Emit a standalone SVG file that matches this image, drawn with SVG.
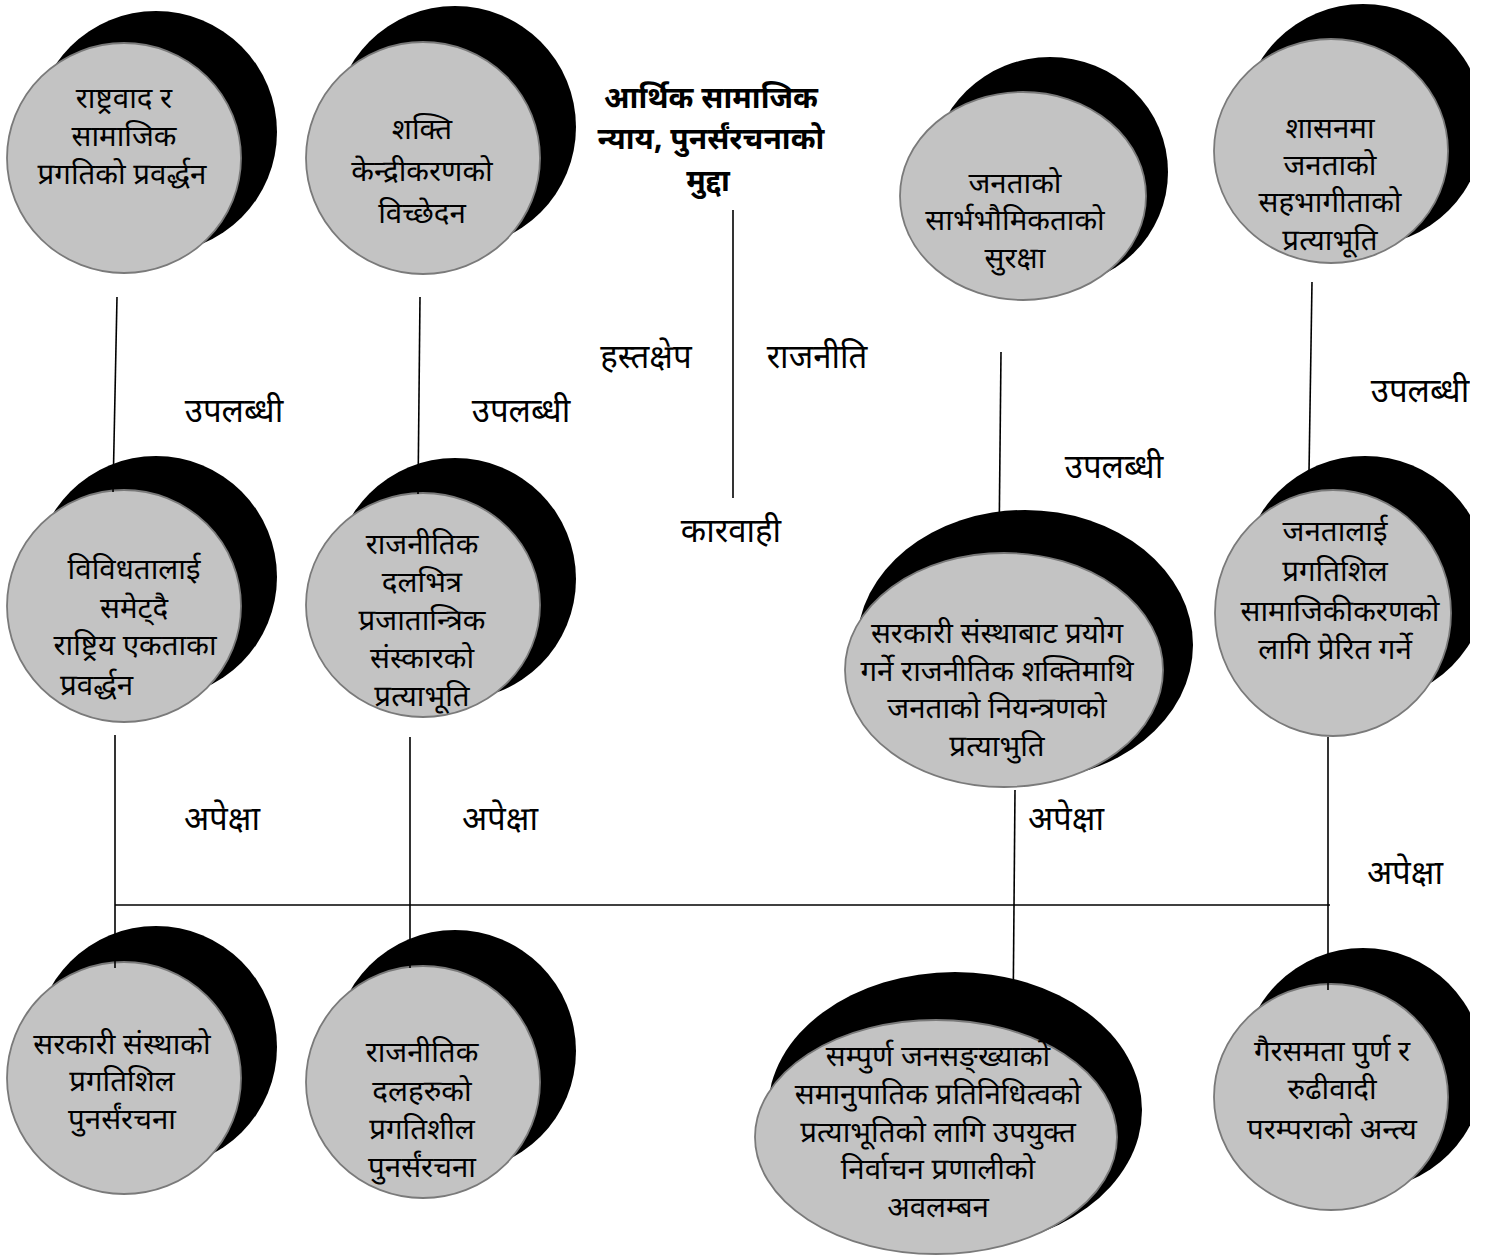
<svg xmlns="http://www.w3.org/2000/svg" width="1487" height="1256" viewBox="0 0 1487 1256">
<style>
.bk{fill:#000}
.gr{fill:#c3c3c3;stroke:#7a7a7a;stroke-width:1.8}
text{font-family:'Noto Sans Devanagari','Noto Sans','Lohit Devanagari','FreeSans',sans-serif;font-size:29.5px;fill:#000;text-anchor:middle}
.ttl{font-weight:bold;font-size:30px}
.lb{font-size:33px}
.ln{stroke:#000;stroke-width:1.6;fill:none}
</style>
<defs>
<clipPath id="pg"><rect x="0" y="0" width="1470" height="1256"/></clipPath>
</defs>
<rect width="1487" height="1256" fill="#fff"/>
<g clip-path="url(#pg)">
<g id="n1">
<circle class="bk" cx="156" cy="132" r="121"/>
<ellipse class="gr" cx="124" cy="158" rx="117" ry="115"/>
<text x="124" y="108">राष्ट्रवाद र</text>
<text x="124" y="146">सामाजिक</text>
<text x="122" y="184">प्रगतिको प्रवर्द्धन</text>
</g>
<g id="n2">
<circle class="bk" cx="455" cy="127" r="121"/>
<ellipse class="gr" cx="423" cy="158" rx="117" ry="116"/>
<text x="422" y="139">शक्ति</text>
<text x="422" y="181">केन्द्रीकरणको</text>
<text x="422" y="223">विच्छेदन</text>
</g>
<g id="n3">
<ellipse class="bk" cx="1050" cy="172" rx="118" ry="115"/>
<ellipse class="gr" cx="1023" cy="196" rx="123" ry="104"/>
<text x="1015" y="193">जनताको</text>
<text x="1015" y="230">सार्भभौमिकताको</text>
<text x="1015" y="268">सुरक्षा</text>
</g>
<g id="n4">
<circle class="bk" cx="1363" cy="125" r="121"/>
<ellipse class="gr" cx="1331" cy="151" rx="117" ry="112"/>
<text x="1330" y="138">शासनमा</text>
<text x="1330" y="175">जनताको</text>
<text x="1330" y="212">सहभागीताको</text>
<text x="1330" y="250">प्रत्याभूति</text>
</g>
<g id="n5">
<circle class="bk" cx="156" cy="577" r="121"/>
<ellipse class="gr" cx="124" cy="606" rx="117" ry="116"/>
<text x="134" y="579">विविधतालाई</text>
<text x="134" y="618">समेट्दै</text>
<text x="135" y="655">राष्ट्रिय एकताका</text>
<text x="60" y="695" style="text-anchor:start">प्रवर्द्धन</text>
</g>
<g id="n6">
<circle class="bk" cx="455" cy="579" r="121"/>
<ellipse class="gr" cx="423" cy="605" rx="117" ry="112"/>
<text x="422" y="554">राजनीतिक</text>
<text x="422" y="592">दलभित्र</text>
<text x="422" y="630">प्रजातान्त्रिक</text>
<text x="422" y="668">संस्कारको</text>
<text x="422" y="706">प्रत्याभूति</text>
</g>
<g id="n7">
<ellipse class="bk" cx="1025" cy="645" rx="168" ry="135"/>
<ellipse class="gr" cx="1004" cy="670" rx="159" ry="117"/>
<text x="997" y="643">सरकारी संस्थाबाट प्रयोग</text>
<text x="997" y="681">गर्ने राजनीतिक शक्तिमाथि</text>
<text x="997" y="718">जनताको नियन्त्रणको</text>
<text x="997" y="756">प्रत्याभुति</text>
</g>
<g id="n8">
<circle class="bk" cx="1365" cy="579" r="123"/>
<ellipse class="gr" cx="1333" cy="613" rx="118" ry="123"/>
<text x="1335" y="541">जनतालाई</text>
<text x="1335" y="581">प्रगतिशिल</text>
<text x="1340" y="621">सामाजिकीकरणको</text>
<text x="1335" y="659">लागि प्रेरित गर्ने</text>
</g>
<g id="n9">
<circle class="bk" cx="156" cy="1047" r="121"/>
<ellipse class="gr" cx="124" cy="1078" rx="117" ry="116"/>
<text x="122" y="1054">सरकारी संस्थाको</text>
<text x="122" y="1091">प्रगतिशिल</text>
<text x="122" y="1129">पुनर्संरचना</text>
</g>
<g id="n10">
<circle class="bk" cx="455" cy="1051" r="121"/>
<ellipse class="gr" cx="423" cy="1082" rx="117" ry="116"/>
<text x="422" y="1062">राजनीतिक</text>
<text x="422" y="1101">दलहरुको</text>
<text x="422" y="1139">प्रगतिशील</text>
<text x="422" y="1177">पुनर्संरचना</text>
</g>
<g id="n11">
<ellipse class="bk" cx="955" cy="1110" rx="187" ry="138"/>
<ellipse class="gr" cx="936" cy="1137" rx="181" ry="117"/>
<text x="938" y="1066">सम्पुर्ण जनसङ्ख्याको</text>
<text x="938" y="1104">समानुपातिक प्रतिनिधित्वको</text>
<text x="938" y="1142">प्रत्याभूतिको लागि उपयुक्त</text>
<text x="938" y="1179">निर्वाचन प्रणालीको</text>
<text x="938" y="1217">अवलम्बन</text>
</g>
<g id="n12">
<circle class="bk" cx="1363" cy="1069" r="121"/>
<ellipse class="gr" cx="1331" cy="1097" rx="117" ry="113"/>
<text x="1332" y="1061">गैरसमता पुर्ण र</text>
<text x="1332" y="1099">रुढीवादी</text>
<text x="1332" y="1139">परम्पराको अन्त्य</text>
</g>
<g id="title">
<text class="ttl" x="711" y="108">आर्थिक सामाजिक</text>
<text class="ttl" x="711" y="149">न्याय, पुनर्संरचनाको</text>
<text class="ttl" x="708" y="191">मुद्दा</text>
</g>
<g id="connectors">
<line class="ln" x1="117" y1="297" x2="113" y2="492"/>
<line class="ln" x1="420" y1="297" x2="418" y2="494"/>
<line class="ln" x1="1001" y1="352" x2="999" y2="548"/>
<line class="ln" x1="1312" y1="282" x2="1309" y2="472"/>
<line class="ln" x1="733" y1="210" x2="733" y2="498"/>
<line class="ln" x1="115" y1="735" x2="115" y2="968"/>
<line class="ln" x1="410" y1="737" x2="410" y2="968"/>
<line class="ln" x1="1015" y1="790" x2="1013" y2="1022"/>
<line class="ln" x1="1328" y1="737" x2="1328" y2="990"/>
<line class="ln" x1="115" y1="905" x2="1330" y2="905"/>
</g>
<g id="labels">
<text class="lb" x="234" y="422">उपलब्धी</text>
<text class="lb" x="521" y="422">उपलब्धी</text>
<text class="lb" x="646" y="368">हस्तक्षेप</text>
<text class="lb" x="817" y="368">राजनीति</text>
<text class="lb" x="731" y="542">कारवाही</text>
<text class="lb" x="1114" y="478">उपलब्धी</text>
<text class="lb" x="1420" y="402">उपलब्धी</text>
<text class="lb" x="222" y="830">अपेक्षा</text>
<text class="lb" x="500" y="830">अपेक्षा</text>
<text class="lb" x="1066" y="830">अपेक्षा</text>
<text class="lb" x="1405" y="884">अपेक्षा</text>
</g>
</g>
</svg>
